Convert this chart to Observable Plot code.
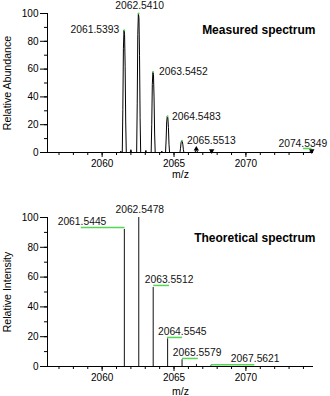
<!DOCTYPE html>
<html><head><meta charset="utf-8">
<script src="https://cdn.jsdelivr.net/npm/d3@7"></script>
<script src="https://cdn.jsdelivr.net/npm/@observablehq/plot@0.6"></script>
<style>body{margin:0;background:#fff;} svg{display:block;} #c{width:330px;}</style>
</head><body><div id="c"></div>
<script>
// ---- data ----
const xDomain = [2056.2, 2074.7];
const xMajorTicks = [2060, 2065, 2070];
const xMinorTicks = [2057,2058,2059,2060,2061,2062,2063,2064,2065,2066,2067,2068,2069,2070,2071,2072,2073,2074];
const yMajorTicks = [0, 20, 40, 60, 80, 100];
const yMinorTicks = [0, 10, 20, 30, 40, 50, 60, 70, 80, 90, 100];

// measured profile spectrum (m/z, relative abundance)
const measuredMz = [2060.90,2061.25,2061.30,2061.34,
  2061.40,2061.44,2061.48,2061.52,2061.56,2061.60,2061.64,2061.68,
  2061.95,2062.00,2062.05,
  2062.40,2062.44,2062.48,2062.52,2062.56,2062.60,2062.64,2062.68,
  2063.00,2063.04,2063.08,
  2063.41,2063.45,2063.49,2063.53,2063.57,2063.61,2063.65,2063.69,
  2064.10,2064.15,2064.20,
  2064.41,2064.45,2064.49,2064.53,2064.57,2064.61,2064.65,2064.69,
  2065.41,2065.45,2065.49,2065.53,2065.57,2065.61,2065.65,2065.69,
  2066.45,2066.52,2066.55,2066.58,2066.65,
  2067.50,2067.58,2067.65,
  2074.40,2074.50,2074.55,2074.62];
const measuredInt = [0,0,1,0,
  0,31,75,88,85,62,22,0,
  0,2,0,
  0,35,85,100,97,70,25,0,
  0,1.5,0,
  0,20,49,58,56,40,14,0,
  0,1,0,
  0,9,22,26,25,18,6,0,
  0,3,7,8.5,8,6,2,0,
  0,1.5,2.5,1.5,0,
  0,0.8,0,
  0,1,1.2,0];
const measuredPeakMz = [2061.5393, 2062.5410, 2063.5452, 2064.5483, 2065.5513];
const measuredPeakInt = [88, 100, 58, 26, 8.5];
const measuredLabelMz = [2061.5393, 2062.5410, 2063.5452, 2064.5483, 2065.5513, 2074.5349];
const measuredLabelInt = [88, 100, 58, 26, 8.5, 1.2];
const measuredLabels = ["2061.5393", "2062.5410", "2063.5452", "2064.5483", "2065.5513", "2074.5349"];
const measuredGreenX1 = [2074.0], measuredGreenX2 = [2074.6], measuredGreenY = [2.9];
const markerUpMz = [2066.55], markerUpInt = [2.5];
const markerDownMz = [2067.62, 2074.58], markerDownInt = [1.2, 1.2];

// theoretical stick spectrum
const theoMz = [2061.5445, 2062.5478, 2063.5512, 2064.5545, 2065.5579, 2066.5601, 2067.5621];
const theoInt = [92, 100, 53, 18.5, 4.5, 1.4, 0.4];
const theoLabels = ["2061.5445", "2062.5478", "2063.5512", "2064.5545", "2065.5579", "2066.5601", "2067.5621"];
const theoGreenX1 = [2058.55, 2063.59, 2064.55, 2065.59, 2067.59];
const theoGreenX2 = [2061.59, 2064.69, 2065.59, 2066.69, 2070.62];
const theoGreenY  = [93.3, 54.4, 19.5, 5.4, 1.2];

// ---- drawing ----
const FONT = "'Liberation Sans', Arial, Helvetica, sans-serif";
const GREEN = "#52d852";
const fmt = d => String(d);

function axes(yLabel, xLabelOffset, yLabelOffset) {
  return [
    Plot.axisY(yMajorTicks, {tickSize: 7, tickPadding: 2, fontSize: 10, tickFormat: fmt, label: null, stroke: "#000"}),
    Plot.axisY([], {tickSize: 0, label: yLabel, labelAnchor: "center", labelArrow: "none", labelOffset: yLabelOffset, fontSize: 10.6}),
    Plot.axisY(yMinorTicks, {tickSize: 3, tickFormat: () => "", label: null, stroke: "#000"}),
    Plot.axisX(xMajorTicks, {tickSize: 5, tickPadding: 2, fontSize: 10, tickFormat: fmt, label: null, stroke: "#000"}),
    Plot.axisX([], {tickSize: 0, label: "m/z", labelAnchor: "center", labelArrow: "none", labelOffset: xLabelOffset, fontSize: 10.5}),
    Plot.axisX(xMinorTicks, {tickSize: 3, tickFormat: () => "", label: null, stroke: "#000"}),
    Plot.ruleX([xDomain[0]], {y1: 0, y2: 100, stroke: "#000"}),
    Plot.ruleY([0], {stroke: "#000"})
  ];
}

function label(xs, ys, texts, i, opts) {
  return Plot.text([i], {x: j => xs[j], y: j => ys[j], text: j => texts[j], fontSize: 10.3, fill: "#111", ...opts});
}

const mIdx = d3.range(measuredMz.length);
const chartTop = Plot.plot({
  width: 330, height: 190,
  marginLeft: 47, marginRight: 17, marginTop: 13, marginBottom: 38,
  style: {fontFamily: FONT, fontSize: "10px", color: "#000", background: "#fff"},
  x: {domain: xDomain},
  y: {domain: [0, 100]},
  marks: [
    ...axes("Relative Abundance", 25, 44),
    Plot.line(mIdx, {x: i => measuredMz[i], y: i => measuredInt[i], stroke: "#000", strokeWidth: 1}),
    Plot.dot(d3.range(measuredPeakMz.length), {x: i => measuredPeakMz[i], y: i => measuredPeakInt[i], r: 1, fill: GREEN, stroke: null}),
    Plot.ruleY([0], {y: i => measuredGreenY[i], x1: i => measuredGreenX1[i], x2: i => measuredGreenX2[i], stroke: GREEN, strokeWidth: 1.5}),
    Plot.dot([0], {x: i => markerUpMz[i], y: i => markerUpInt[i], symbol: "triangle", r: 2, fill: "#000", stroke: null}),
    Plot.dot([0, 1], {x: i => markerDownMz[i], y: i => markerDownInt[i], symbol: "triangle", rotate: 180, r: 2, fill: "#000", stroke: null}),
    label(measuredLabelMz, measuredLabelInt, measuredLabels, 0, {textAnchor: "end", dx: -5, dy: 0}),
    label(measuredLabelMz, measuredLabelInt, measuredLabels, 1, {textAnchor: "middle", dx: 1, dy: -8}),
    label(measuredLabelMz, measuredLabelInt, measuredLabels, 2, {textAnchor: "start", dx: 6, dy: 0}),
    label(measuredLabelMz, measuredLabelInt, measuredLabels, 3, {textAnchor: "start", dx: 4.5, dy: 0.5}),
    label(measuredLabelMz, measuredLabelInt, measuredLabels, 4, {textAnchor: "start", dx: 5, dy: 0}),
    label(measuredLabelMz, measuredLabelInt, measuredLabels, 5, {textAnchor: "end", dx: 16, dy: -7}),
    Plot.text(["Measured spectrum"], {frameAnchor: "top-right", textAnchor: "end", dx: 2, dy: 12, fontWeight: "bold", fontSize: 12, fill: "#000"})
  ]
});

const tIdx = d3.range(theoMz.length);
const chartBottom = Plot.plot({
  width: 330, height: 206,
  marginLeft: 47, marginRight: 17, marginTop: 27, marginBottom: 30,
  style: {fontFamily: FONT, fontSize: "10px", color: "#000", background: "#fff"},
  x: {domain: xDomain},
  y: {domain: [0, 100]},
  marks: [
    ...axes("Relative Intensity", 28, 44),
    Plot.ruleY(d3.range(theoGreenY.length), {y: i => theoGreenY[i], x1: i => theoGreenX1[i], x2: i => theoGreenX2[i], stroke: GREEN, strokeWidth: 1.5}),
    Plot.ruleX(tIdx, {x: i => theoMz[i], y1: 0, y2: i => theoInt[i], stroke: "#111", strokeWidth: 1}),
    label(theoMz, theoInt, theoLabels, 0, {textAnchor: "end", dx: -18, dy: -8}),
    label(theoMz, theoInt, theoLabels, 1, {textAnchor: "middle", dx: 1, dy: -8}),
    label(theoMz, theoInt, theoLabels, 2, {textAnchor: "start", dx: -8.5, dy: -7.7}),
    label(theoMz, theoInt, theoLabels, 3, {textAnchor: "start", dx: -9.7, dy: -7.7}),
    label(theoMz, theoInt, theoLabels, 4, {textAnchor: "start", dx: -9.3, dy: -6.6}),
    label(theoMz, theoInt, theoLabels, 6, {textAnchor: "start", dx: 20, dy: -7.3}),
    Plot.text(["Theoretical spectrum"], {frameAnchor: "top-right", textAnchor: "end", dx: 2, dy: 16, fontWeight: "bold", fontSize: 12, fill: "#000"})
  ]
});

document.getElementById("c").append(chartTop, chartBottom);
</script>
</body></html>
